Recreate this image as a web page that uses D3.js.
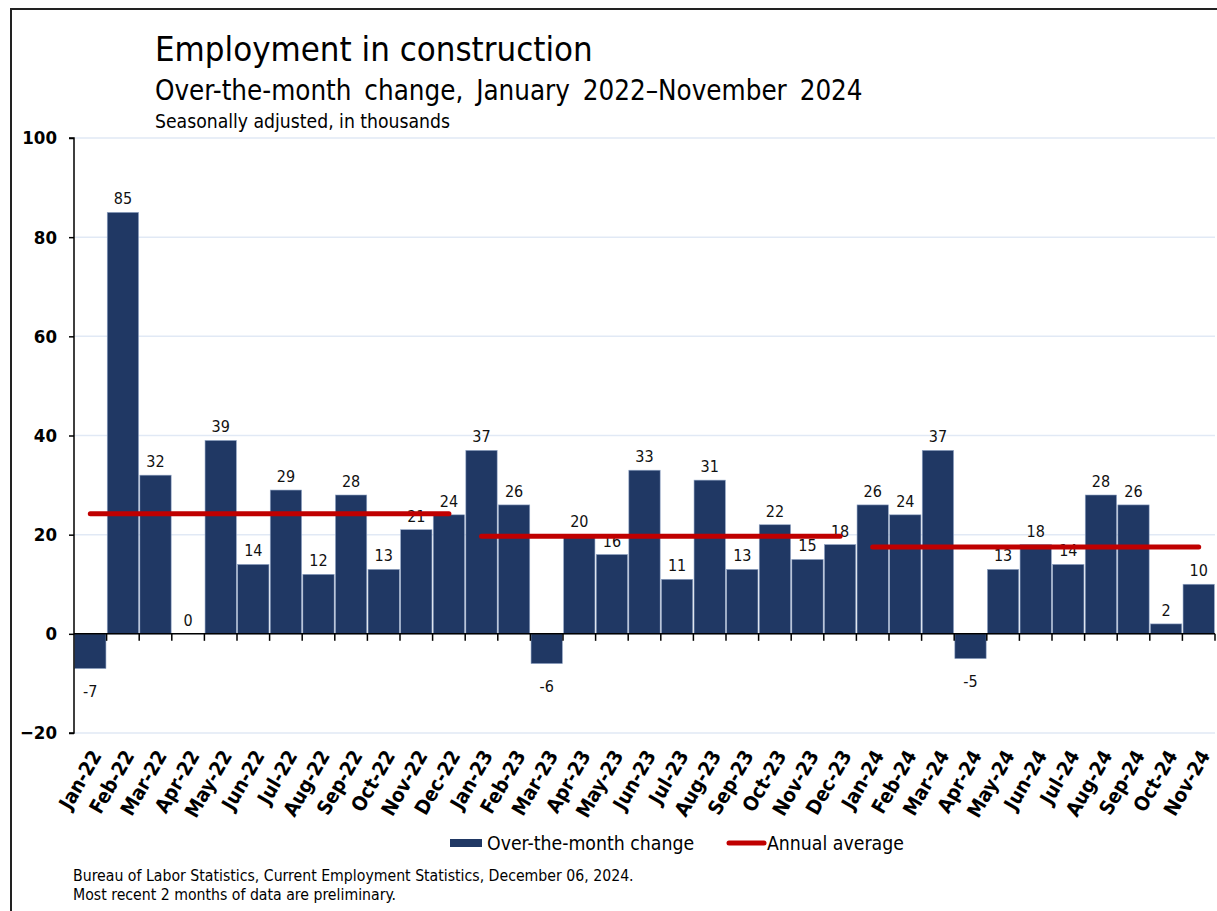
<!DOCTYPE html>
<html lang="en">
<head>
<meta charset="UTF-8">
<title>Employment in construction</title>
<script src="https://d3js.org/d3.v7.min.js"></script>
<style>
  body { margin: 0; background: #fff; }
  text { font-family: Tahoma, "DejaVu Sans Condensed", "DejaVu Sans", sans-serif; }
</style>
</head>
<body>
<script>
// month labels
var months = ["Jan-22","Feb-22","Mar-22","Apr-22","May-22","Jun-22","Jul-22","Aug-22","Sep-22","Oct-22","Nov-22","Dec-22",
  "Jan-23","Feb-23","Mar-23","Apr-23","May-23","Jun-23","Jul-23","Aug-23","Sep-23","Oct-23","Nov-23","Dec-23",
  "Jan-24","Feb-24","Mar-24","Apr-24","May-24","Jun-24","Jul-24","Aug-24","Sep-24","Oct-24","Nov-24"];
// over-the-month change (thousands)
var changes = [-7,85,32,0,39,14,29,12,28,13,21,24,
  37,26,-6,20,16,33,11,31,13,22,15,18,
  26,24,37,-5,13,18,14,28,26,2,10];
// annual averages: first month, last month, value
var avgStart = ["Jan-22","Jan-23","Jan-24"];
var avgEnd = ["Dec-22","Dec-23","Nov-24"];
var avgValues = [24.2, 19.7, 17.5];
var yTicks = [-20,0,20,40,60,80,100];

var width = 1217, height = 911;
var svg = d3.select("body").append("svg").attr("width", width).attr("height", height);

// frame
svg.append("path").attr("d", "M11,911 V9 H1217").attr("fill", "none")
  .attr("stroke", "#222").attr("stroke-width", 2);

var x = d3.scaleBand().domain(months).range([74, 1215]).paddingInner(0.04).paddingOuter(0.02);
var y = d3.scaleLinear().domain([-20, 100]).range([733, 138]);

// gridlines
svg.append("g").selectAll("line").data(yTicks).join("line")
  .attr("x1", 74).attr("x2", 1215)
  .attr("y1", function(d) { return y(d); }).attr("y2", function(d) { return y(d); })
  .attr("stroke", "#e1e9f5").attr("stroke-width", 1.5);

// bars
svg.append("g").selectAll("rect").data(changes).join("rect")
  .attr("x", function(d, i) { return x(months[i]); })
  .attr("width", x.bandwidth())
  .attr("y", function(d) { return y(Math.max(0, d)); })
  .attr("height", function(d) { return Math.abs(y(d) - y(0)); })
  .attr("fill", "#203864")
  .attr("stroke", "#8fa3c4").attr("stroke-width", 0.6);

// value labels
svg.append("g").selectAll("text").data(changes).join("text")
  .attr("x", function(d, i) { return x(months[i]) + x.bandwidth() / 2; })
  .attr("y", function(d) { return d < 0 ? y(d) + 28 : y(d) - 8; })
  .attr("text-anchor", "middle")
  .attr("font-size", 16).attr("fill", "#111")
  .text(function(d) { return d; });

// annual average lines
svg.append("g").selectAll("line").data(avgValues).join("line")
  .attr("x1", function(d, i) { return x(avgStart[i]) + x.bandwidth() / 2; })
  .attr("x2", function(d, i) { return x(avgEnd[i]) + x.bandwidth() / 2; })
  .attr("y1", function(d) { return y(d); }).attr("y2", function(d) { return y(d); })
  .attr("stroke", "#c00000").attr("stroke-width", 5).attr("stroke-linecap", "round");

// y axis
var yAxis = svg.append("g").attr("transform", "translate(74,0)")
  .call(d3.axisLeft(y).tickValues(yTicks).tickSize(5).tickPadding(12));
yAxis.select(".domain").attr("stroke", "#000").attr("stroke-width", 1.5).attr("d", "M-5,138H0V733H-5");
yAxis.selectAll(".tick line").attr("stroke", "#000").attr("stroke-width", 1.5);
yAxis.selectAll("text").attr("font-size", 18.5).attr("font-weight", "bold").attr("fill", "#000")
  .attr("font-family", "Tahoma, 'DejaVu Sans Condensed', 'DejaVu Sans', sans-serif");

// zero line with ticks at band boundaries
var bounds = months.map(function(m) { return x(m) - x.step() * x.paddingInner() / 2; }).concat([1215]);
svg.append("line").attr("x1", 74).attr("x2", 1215).attr("y1", y(0)).attr("y2", y(0))
  .attr("stroke", "#000").attr("stroke-width", 1.5);
svg.append("g").selectAll("line").data(bounds.slice(1)).join("line")
  .attr("x1", function(d) { return d; }).attr("x2", function(d) { return d; })
  .attr("y1", y(0)).attr("y2", y(0) + 7)
  .attr("stroke", "#000").attr("stroke-width", 1.5);

// x labels
svg.append("g").selectAll("text").data(months).join("text")
  .attr("transform", function(d) {
    return "translate(" + (x(d) + x.bandwidth() / 2 + 6) + ",752) rotate(-60)";
  })
  .attr("text-anchor", "end").attr("dy", "0.35em")
  .attr("font-size", 20).attr("font-weight", "bold").attr("fill", "#000")
  .text(function(d) { return d; });

// titles
svg.append("text").attr("x", 155).attr("y", 61).attr("font-size", 34.5).attr("fill", "#000")
  .text("Employment in construction");
svg.append("text").attr("x", 155).attr("y", 100).attr("font-size", 27.5).attr("fill", "#000")
  .attr("word-spacing", 5)
  .text("Over-the-month change, January 2022\u2013November 2024");
svg.append("text").attr("x", 155).attr("y", 128).attr("font-size", 19.2).attr("fill", "#000")
  .text("Seasonally adjusted, in thousands");

// legend
svg.append("rect").attr("x", 450).attr("y", 839).attr("width", 32).attr("height", 8).attr("fill", "#203864");
svg.append("text").attr("x", 487).attr("y", 850).attr("font-size", 19.3).attr("fill", "#000")
  .text("Over-the-month change");
svg.append("line").attr("x1", 729).attr("x2", 764).attr("y1", 843).attr("y2", 843)
  .attr("stroke", "#c00000").attr("stroke-width", 5).attr("stroke-linecap", "round");
svg.append("text").attr("x", 767).attr("y", 850).attr("font-size", 19.3).attr("fill", "#000")
  .text("Annual average");

// source
svg.append("text").attr("x", 73).attr("y", 881).attr("font-size", 15.7).attr("fill", "#000")
  .text("Bureau of Labor Statistics, Current Employment Statistics, December 06, 2024.");
svg.append("text").attr("x", 73).attr("y", 900).attr("font-size", 15.7).attr("fill", "#000")
  .text("Most recent 2 months of data are preliminary.");
</script>
</body>
</html>
